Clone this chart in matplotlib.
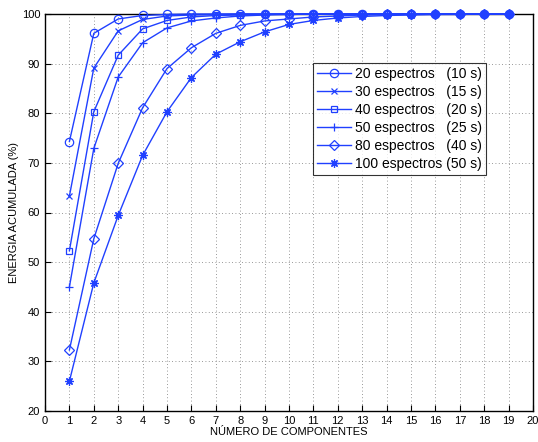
import matplotlib
matplotlib.use("Agg")
import matplotlib.pyplot as plt
import numpy as np

plt.rcParams['font.family'] = ['Liberation Sans', 'DejaVu Sans']

components = list(range(1, 20))
labels = ["20 espectros   (10 s)", "30 espectros   (15 s)", "40 espectros   (20 s)",
          "50 espectros   (25 s)", "80 espectros   (40 s)", "100 espectros (50 s)"]
s20 = [74.3, 96.1, 99.0, 99.7, 99.9, 100, 100, 100, 100, 100, 100, 100, 100, 100, 100, 100, 100, 100, 100]
s30 = [63.3, 89.1, 96.6, 98.9, 99.6, 99.8, 99.9, 100, 100, 100, 100, 100, 100, 100, 100, 100, 100, 100, 100]
s40 = [52.3, 80.3, 91.7, 97.0, 98.7, 99.4, 99.7, 99.8, 99.9, 100, 100, 100, 100, 100, 100, 100, 100, 100, 100]
s50 = [45.0, 72.9, 87.3, 94.2, 97.2, 98.6, 99.2, 99.6, 99.8, 99.9, 100, 100, 100, 100, 100, 100, 100, 100, 100]
s80 = [32.3, 54.7, 69.9, 81.1, 89.0, 93.2, 96.1, 97.7, 98.6, 99.0, 99.4, 99.6, 99.8, 99.9, 100, 100, 100, 100, 100]
s100 = [26.0, 45.8, 59.4, 71.5, 80.3, 87.2, 91.9, 94.4, 96.4, 97.9, 98.7, 99.2, 99.5, 99.7, 99.8, 99.9, 99.9, 100, 100]
series = [s20, s30, s40, s50, s80, s100]
markers = ['o', 'x', 's', '+', 'D', (8, 2, 0)]
msizes = [6, 4, 5, 6, 5, 6]
xticks = list(range(0, 21))
yticks = list(range(20, 101, 10))

fig = plt.figure(figsize=(5.38, 4.42), dpi=100)
ax = fig.add_axes([45/538, 1-411/442, 488/538, 397/442])
color = '#2040ff'
for vals, m, ms, lab in zip(series, markers, msizes, labels):
    ax.plot(components, vals, color=color, marker=m, markersize=ms, lw=1.0,
            markerfacecolor='none' if m in ('o', 's', 'D') else color,
            markeredgewidth=0.9, label=lab, clip_on=False, zorder=3)

ax.set_xlim(0, 20)
ax.set_ylim(20, 100)
ax.set_xticks(xticks)
ax.set_yticks(yticks)
ax.tick_params(direction='in', labelsize=8, length=4, width=0.8)
ax.grid(True, linestyle=(0, (1, 3)), color='#777777', lw=0.6)
for sp in ax.spines.values():
    sp.set_linewidth(1.0)
ax.set_xlabel("NÚMERO DE COMPONENTES", fontsize=8, labelpad=1)
ax.set_ylabel("ENERGIA ACUMULADA (%)", fontsize=8, labelpad=2)

leg = ax.legend(loc='upper left', bbox_to_anchor=((313-45)/488, (411-63)/397),
                fontsize=10, frameon=True, fancybox=False, edgecolor='black',
                handlelength=2.4, borderpad=0.3, labelspacing=0.28, handletextpad=0.3,
                borderaxespad=0)
leg.get_frame().set_linewidth(0.8)

fig.savefig('out.png', dpi=100)
